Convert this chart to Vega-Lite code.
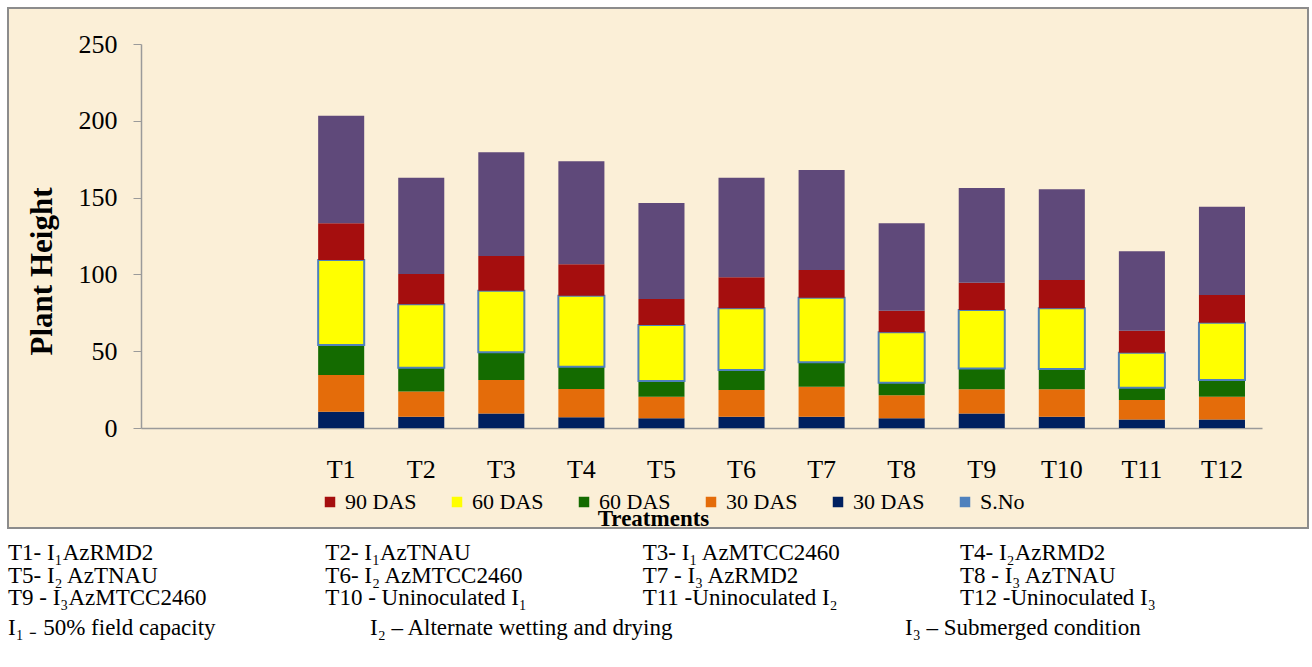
{
  "$schema": "https://vega.github.io/schema/vega-lite/v6.json",
  "width": 1300,
  "height": 520,
  "autosize": {"type": "none"},
  "padding": {"left": 8, "top": 8, "right": 4, "bottom": 139},
  "background": "white",
  "config": {
    "view": {"fill": "#FBEFD7", "stroke": "#8C8C8C", "strokeWidth": 2},
    "font": "Liberation Serif",
    "legend": {"labelFont": "Liberation Serif", "titleFont": "Liberation Serif"},
    "axis": {"labelFont": "Liberation Serif", "titleFont": "Liberation Serif"},
    "text": {"font": "Liberation Serif"},
    "style": {"guide-label": {"font": "Liberation Serif"}, "guide-title": {"font": "Liberation Serif"}}
  },
  "datasets": {
    "bars": [
      {"t":"T1","s":"a_navy","v":10.6},{"t":"T1","s":"b_orange","v":23.9},{"t":"T1","s":"c_green","v":19.5},{"t":"T1","s":"d_yellow","v":55.4},{"t":"T1","s":"e_red","v":23.9},{"t":"T1","s":"f_purple","v":70.0},
      {"t":"T2","s":"a_navy","v":7.4},{"t":"T2","s":"b_orange","v":16.3},{"t":"T2","s":"c_green","v":15.6},{"t":"T2","s":"d_yellow","v":41.2},{"t":"T2","s":"e_red","v":19.8},{"t":"T2","s":"f_purple","v":62.7},
      {"t":"T3","s":"a_navy","v":9.5},{"t":"T3","s":"b_orange","v":21.7},{"t":"T3","s":"c_green","v":18.1},{"t":"T3","s":"d_yellow","v":40.1},{"t":"T3","s":"e_red","v":22.6},{"t":"T3","s":"f_purple","v":67.5},
      {"t":"T4","s":"a_navy","v":7.0},{"t":"T4","s":"b_orange","v":18.4},{"t":"T4","s":"c_green","v":14.5},{"t":"T4","s":"d_yellow","v":46.2},{"t":"T4","s":"e_red","v":20.5},{"t":"T4","s":"f_purple","v":67.0},
      {"t":"T5","s":"a_navy","v":6.3},{"t":"T5","s":"b_orange","v":14.1},{"t":"T5","s":"c_green","v":10.2},{"t":"T5","s":"d_yellow","v":36.5},{"t":"T5","s":"e_red","v":16.9},{"t":"T5","s":"f_purple","v":62.5},
      {"t":"T6","s":"a_navy","v":7.4},{"t":"T6","s":"b_orange","v":17.3},{"t":"T6","s":"c_green","v":13.1},{"t":"T6","s":"d_yellow","v":40.1},{"t":"T6","s":"e_red","v":20.2},{"t":"T6","s":"f_purple","v":64.9},
      {"t":"T7","s":"a_navy","v":7.4},{"t":"T7","s":"b_orange","v":19.5},{"t":"T7","s":"c_green","v":15.9},{"t":"T7","s":"d_yellow","v":42.0},{"t":"T7","s":"e_red","v":18.1},{"t":"T7","s":"f_purple","v":65.1},
      {"t":"T8","s":"a_navy","v":6.3},{"t":"T8","s":"b_orange","v":15.0},{"t":"T8","s":"c_green","v":8.2},{"t":"T8","s":"d_yellow","v":32.8},{"t":"T8","s":"e_red","v":14.1},{"t":"T8","s":"f_purple","v":56.9},
      {"t":"T9","s":"a_navy","v":9.5},{"t":"T9","s":"b_orange","v":15.7},{"t":"T9","s":"c_green","v":13.6},{"t":"T9","s":"d_yellow","v":38.0},{"t":"T9","s":"e_red","v":17.8},{"t":"T9","s":"f_purple","v":61.7},
      {"t":"T10","s":"a_navy","v":7.4},{"t":"T10","s":"b_orange","v":17.8},{"t":"T10","s":"c_green","v":13.2},{"t":"T10","s":"d_yellow","v":39.5},{"t":"T10","s":"e_red","v":18.5},{"t":"T10","s":"f_purple","v":59.0},
      {"t":"T11","s":"a_navy","v":5.6},{"t":"T11","s":"b_orange","v":12.6},{"t":"T11","s":"c_green","v":8.0},{"t":"T11","s":"d_yellow","v":22.8},{"t":"T11","s":"e_red","v":14.3},{"t":"T11","s":"f_purple","v":51.7},
      {"t":"T12","s":"a_navy","v":5.6},{"t":"T12","s":"b_orange","v":14.8},{"t":"T12","s":"c_green","v":10.8},{"t":"T12","s":"d_yellow","v":37.4},{"t":"T12","s":"e_red","v":18.0},{"t":"T12","s":"f_purple","v":57.5}
    ],
    "notes": [
      {"row":1,"col":1,"label":"T1- I₁AzRMD2"},
      {"row":1,"col":2,"label":"T2- I₁AzTNAU"},
      {"row":1,"col":3,"label":"T3- I₁ AzMTCC2460"},
      {"row":1,"col":4,"label":"T4- I₂AzRMD2"},
      {"row":2,"col":1,"label":"T5- I₂ AzTNAU"},
      {"row":2,"col":2,"label":"T6- I₂ AzMTCC2460"},
      {"row":2,"col":3,"label":"T7 - I₃ AzRMD2"},
      {"row":2,"col":4,"label":"T8 - I₃ AzTNAU"},
      {"row":3,"col":1,"label":"T9 - I₃AzMTCC2460"},
      {"row":3,"col":2,"label":"T10 - Uninoculated I₁"},
      {"row":3,"col":3,"label":"T11 -Uninoculated I₂"},
      {"row":3,"col":4,"label":"T12 -Uninoculated I₃"}
    ],
    "conds": [
      {"row":4,"col":1,"label":"I₁ ₋ 50% field capacity"},
      {"row":4,"col":2,"label":"I₂ – Alternate wetting and drying"},
      {"row":4,"col":3,"label":"I₃ – Submerged condition"}
    ]
  },
  "resolve": {"scale": {"x": "independent", "y": "independent"}},
  "layer": [
    {
      "data": {"name": "bars"},
      "mark": {"type": "bar"},
      "encoding": {
        "x": {
          "field": "t", "type": "nominal",
          "scale": {"domain": ["b1","b2","T1","T2","T3","T4","T5","T6","T7","T8","T9","T10","T11","T12"], "range": [133, 1254], "paddingInner": 0.425, "paddingOuter": 0.2125},
          "axis": {
            "title": "Treatments", "titleFont": "Liberation Serif", "titleFontSize": 23, "titleFontWeight": "bold", "titleColor": "black",
            "titleX": 645, "titleY": 90, "titleAlign": "center", "titleBaseline": "middle",
            "labelExpr": "datum.value == 'b1' || datum.value == 'b2' ? '' : datum.label",
            "labelAngle": 0, "labelFont": "Liberation Serif", "labelFontSize": 26, "labelColor": "black", "labelPadding": 28,
            "ticks": false, "domainColor": "#9A9A9A", "domainWidth": 1.5, "offset": -100, "grid": false
          }
        },
        "y": {
          "field": "v", "type": "quantitative", "stack": "zero",
          "scale": {"domain": [0, 250], "range": [420, 36], "nice": false, "zero": false},
          "axis": {
            "title": "Plant Height", "titleFont": "Liberation Serif", "titleFontSize": 31, "titleFontWeight": "bold", "titleColor": "black",
            "titleX": -99, "titleY": 263, "titleAlign": "center", "titleBaseline": "middle", "titleAngle": -90,
            "values": [0, 50, 100, 150, 200, 250], "labelFont": "Liberation Serif", "labelFontSize": 26, "labelColor": "black", "labelPadding": 16,
            "tickSize": 8, "tickColor": "#9A9A9A", "domainColor": "#9A9A9A", "domainWidth": 1.5, "grid": false, "offset": -133
          }
        },
        "color": {
          "field": "s", "type": "nominal",
          "scale": {
            "domain": ["a_navy","b_orange","c_green","d_yellow","e_red","f_purple","g_sno"],
            "range": ["#002060","#E46C0A","#146B00","#FFFF00","#A50E0E","#5F497A","#4F81BD"]
          },
          "legend": {
            "orient": "none", "legendX": 311, "legendY": 483, "direction": "horizontal", "title": null,
            "values": ["e_red","d_yellow","c_green","b_orange","a_navy","g_sno"],
            "labelExpr": "datum.value == 'e_red' ? '90 DAS' : (datum.value == 'd_yellow' || datum.value == 'c_green') ? '60 DAS' : (datum.value == 'b_orange' || datum.value == 'a_navy') ? '30 DAS' : 'S.No'",
            "labelFont": "Liberation Serif", "labelFontSize": 22, "labelColor": "black", "labelOffset": 4,
            "symbolType": "square", "symbolSize": 110, "symbolStrokeWidth": 0, "columnPadding": 29, "padding": 0,
            "encode": {
              "labels": {"update": {"font": {"value": "Liberation Serif"}}},
              "symbols": {"update": {"stroke": {"signal": "datum.value === 'd_yellow' ? '#4F81BD' : 'transparent'"}, "strokeWidth": {"value": 1.5}}}
            }
          }
        },
        "order": {"field": "s", "sort": "ascending"},
        "stroke": {"condition": {"test": "datum.s === 'd_yellow'", "value": "#4F81BD"}, "value": "transparent"},
        "strokeWidth": {"condition": {"test": "datum.s === 'd_yellow'", "value": 2}, "value": 0}
      }
    },
    {
      "data": {"name": "notes"},
      "mark": {"type": "text", "align": "left", "baseline": "middle", "font": "Liberation Serif", "fontSize": 23, "color": "black"},
      "encoding": {
        "x": {"field": "col", "type": "quantitative", "scale": {"domain": [1, 4], "range": [0, 952], "nice": false, "zero": false}, "axis": null},
        "y": {"field": "row", "type": "quantitative", "scale": {"domain": [1, 3], "range": [545, 590], "nice": false, "zero": false}, "axis": null},
        "text": {"field": "label"}
      }
    },
    {
      "data": {"name": "conds"},
      "mark": {"type": "text", "align": "left", "baseline": "middle", "font": "Liberation Serif", "fontSize": 23, "color": "black"},
      "encoding": {
        "x": {"field": "col", "type": "quantitative", "scale": {"domain": [1, 2, 3], "range": [0, 362, 897], "nice": false, "zero": false}, "axis": null},
        "y": {"field": "row", "type": "quantitative", "scale": {"domain": [4, 5], "range": [620, 640], "nice": false, "zero": false}, "axis": null},
        "text": {"field": "label"}
      }
    }
  ]
}
